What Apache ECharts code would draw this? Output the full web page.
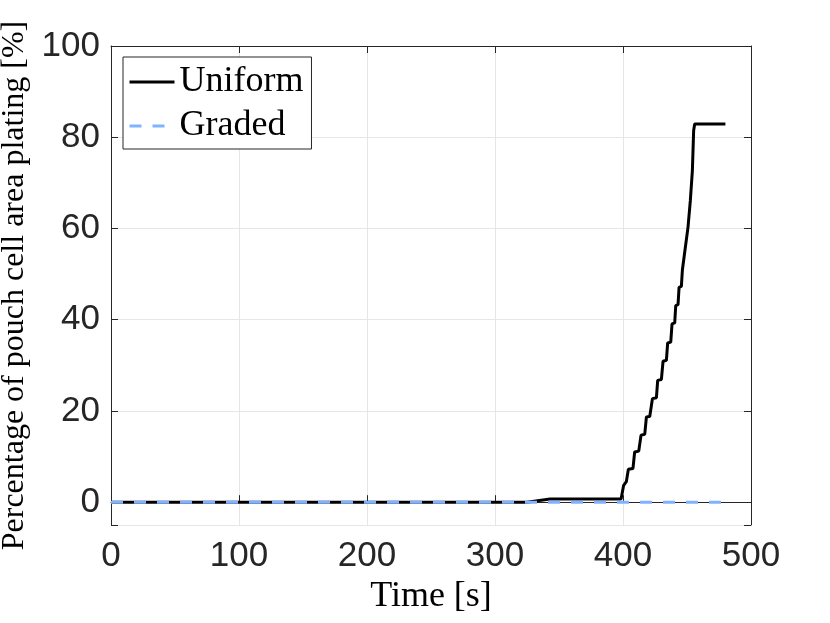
<!DOCTYPE html>
<html>
<head>
<meta charset="utf-8">
<script src="https://cdn.jsdelivr.net/npm/echarts@6/dist/echarts.min.js"></script>
<style>
html,body{margin:0;padding:0;background:#fff;}
#chart{width:830px;height:623px;}
</style>
</head>
<body>
<div id="chart"></div>
<script>
const seriesNames = ['Uniform', 'Graded'];
const uniformTime = [0, 325, 343, 398.5, 400.5, 402.6, 404.2, 407.8, 409.1, 412.3, 414.1, 417, 418.3, 420.9, 423, 426.1, 427.1, 430, 431.3, 433.9, 434.9, 437.3, 438.3, 440.4, 441.2, 443, 443.8, 445.6, 446.4, 447.4, 448.2, 449.2, 450.8, 452.6, 454.2, 455.2, 456, 480];
const uniformPct  = [0, 0, 0.7, 0.7, 3.7, 4.5, 7.2, 7.4, 11.0, 11.2, 14.7, 14.9, 18.7, 18.8, 22.7, 22.9, 26.7, 26.9, 30.9, 31.1, 34.9, 35.1, 39.1, 39.3, 43.1, 43.3, 47.1, 47.3, 50.9, 51.2, 54.8, 55.0, 60.3, 66.1, 72.7, 81.5, 82.9, 82.9];
const gradedTime = [0, 480];
const gradedPct  = [0, 0];
const xTitle = 'Time [s]';
const yTitle = 'Percentage of pouch cell area plating [%]';

const zip = (a, b) => a.map((v, i) => [v, b[i]]);
const tickFont = {fontFamily: 'Liberation Sans', fontSize: 35, color: '#262626'};
const serif = 'Liberation Serif';
const axisCol = '#262626';

const chart = echarts.init(document.getElementById('chart'), null, {renderer: 'canvas'});
chart.setOption({
  animation: false,
  backgroundColor: '#fff',
  grid: {left: 111, right: 79, top: 46, bottom: 98, containLabel: false, outerBoundsMode: 'none'},
  legend: {
    orient: 'vertical', left: 123, top: 57,
    data: seriesNames,
    itemWidth: 45, itemHeight: 14, itemGap: 4,
    padding: [5, 8, 3, 5],
    borderColor: axisCol, borderWidth: 1, backgroundColor: '#fff',
    itemStyle: {opacity: 0},
    lineStyle: {width: 3},
    textStyle: {fontFamily: serif, fontSize: 36, color: '#000', lineHeight: 40}
  },
  xAxis: [{
    type: 'value', min: 0, max: 500, interval: 100, position: 'bottom',
    name: xTitle, nameLocation: 'middle', nameGap: 53,
    nameTextStyle: {fontFamily: serif, fontSize: 36, color: '#000'},
    axisLine: {show: true, lineStyle: {color: axisCol, width: 1}},
    axisTick: {show: true, inside: true, length: 7, lineStyle: {color: axisCol}},
    axisLabel: Object.assign({margin: 14}, tickFont),
    splitLine: {show: true, lineStyle: {color: '#e6e6e6', width: 1}}
  }, {
    type: 'value', min: 0, max: 500, interval: 100, position: 'top',
    axisLine: {show: true, onZero: false, lineStyle: {color: axisCol, width: 1}},
    axisTick: {show: true, inside: true, length: 7, lineStyle: {color: axisCol}},
    axisLabel: {show: false}, splitLine: {show: false}
  }],
  yAxis: [{
    type: 'value', min: -5, max: 100, splitNumber: 5, position: 'left',
    name: yTitle, nameLocation: 'middle', nameGap: 78, nameRotate: 90,
    nameTextStyle: {fontFamily: serif, fontSize: 32, color: '#000'},
    axisLine: {show: true, onZero: false, lineStyle: {color: axisCol, width: 1}},
    axisTick: {show: true, inside: true, length: 7, lineStyle: {color: axisCol}},
    axisLabel: Object.assign({margin: 11, formatter: v => (v < 0 ? '' : String(v))}, tickFont),
    splitLine: {show: true, lineStyle: {color: '#e6e6e6', width: 1}}
  }, {
    type: 'value', min: -5, max: 100, splitNumber: 5, position: 'right',
    axisLine: {show: true, onZero: false, lineStyle: {color: axisCol, width: 1}},
    axisTick: {show: true, inside: true, length: 7, lineStyle: {color: axisCol}},
    axisLabel: {show: false}, splitLine: {show: false}
  }],
  series: [{
    name: seriesNames[0], type: 'line', xAxisIndex: 0, yAxisIndex: 0,
    data: zip(uniformTime, uniformPct), symbol: 'none', z: 2,
    lineStyle: {color: '#000', width: 3}, itemStyle: {color: '#000'}
  }, {
    name: seriesNames[1], type: 'line', xAxisIndex: 0, yAxisIndex: 0,
    data: zip(gradedTime, gradedPct), symbol: 'none', z: 3,
    lineStyle: {color: '#80b3ff', width: 3, type: [12, 11]}, itemStyle: {color: '#80b3ff'}
  }]
});
</script>
</body>
</html>
